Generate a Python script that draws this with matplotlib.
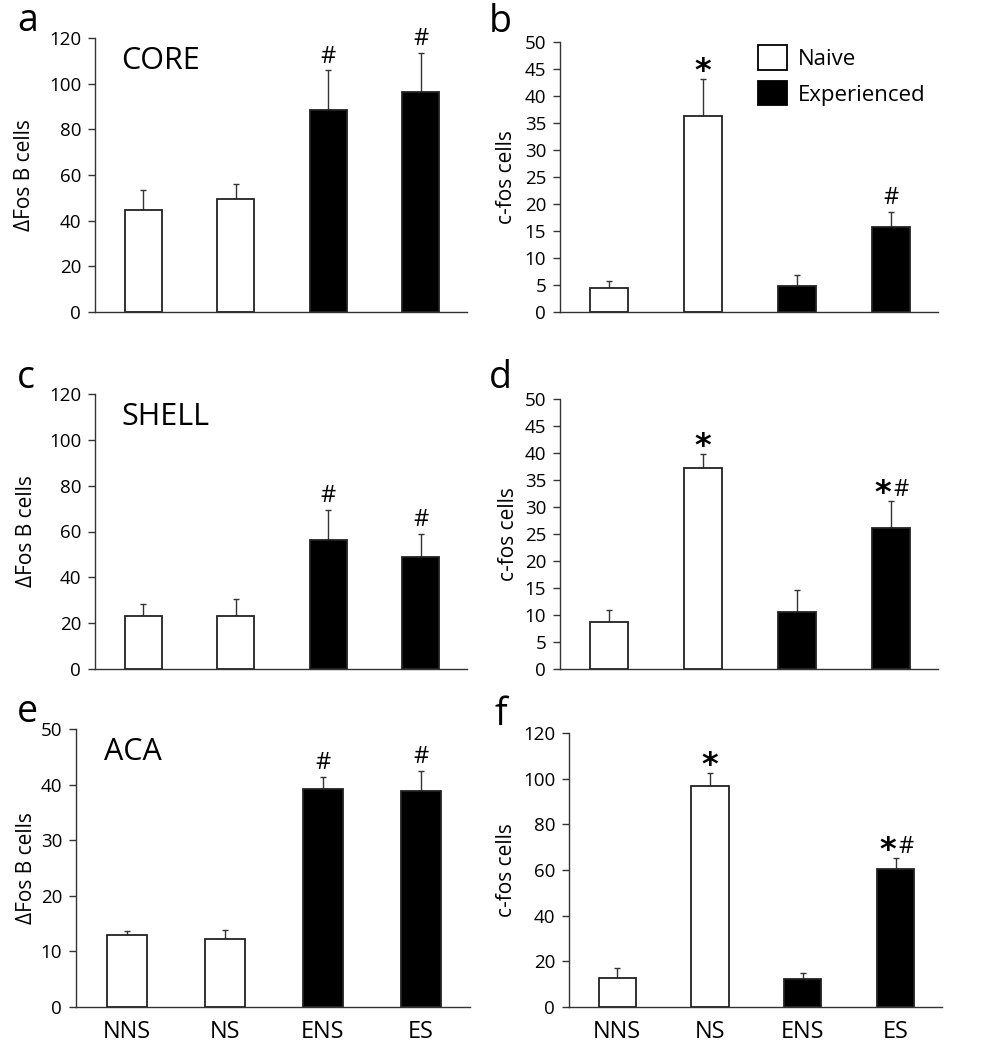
import matplotlib
matplotlib.use("Agg")
import matplotlib.pyplot as plt
from matplotlib.patches import Patch

plt.rcParams['font.family'] = ['Open Sans', 'DejaVu Sans']

groups = ["NNS", "NS", "ENS", "ES"]
bar_colors = ["white", "white", "black", "black"]

# panel a: CORE, deltaFosB
a_vals = [44.5, 49.5, 88.5, 96.5]
a_err = [9.0, 6.5, 17.5, 17.0]
a_marks = ["", "", "#", "#"]
# panel b: CORE, c-fos
b_vals = [4.5, 36.3, 4.8, 15.8]
b_err = [1.3, 6.9, 2.0, 2.8]
b_marks = ["", "*", "", "#"]
# panel c: SHELL, deltaFosB
c_vals = [23.2, 23.3, 56.2, 48.7]
c_err = [5.3, 7.2, 13.3, 10.3]
c_marks = ["", "", "#", "#"]
# panel d: SHELL, c-fos
d_vals = [8.7, 37.2, 10.6, 26.2]
d_err = [2.2, 2.6, 4.1, 4.9]
d_marks = ["", "*", "", "*#"]
# panel e: ACA, deltaFosB
e_vals = [13.0, 12.2, 39.2, 38.8]
e_err = [0.7, 1.7, 2.2, 3.7]
e_marks = ["", "", "#", "#"]
# panel f: ACA, c-fos
f_vals = [12.6, 96.7, 12.2, 60.4]
f_err = [4.3, 5.9, 2.8, 4.8]
f_marks = ["", "*", "", "*#"]

W, H = 981, 1050
fig = plt.figure(figsize=(W / 100, H / 100), dpi=100)


def rect(l, r, b, t):
    return [l / W, 1 - b / H, (r - l) / W, (b - t) / H]


# letter, axes box, values, errors, marks, ymax, ystep, ylabel, region, xlabels,
# letter position (px), ylabel centre x (px)
panels = [
    ("a", rect(95, 467, 312, 38), a_vals, a_err, a_marks, 120, 20, "\u0394Fos B cells", "CORE", False, (17, 31), 25),
    ("b", rect(560, 938, 312, 42), b_vals, b_err, b_marks, 50, 5, "c-fos cells", None, False, (489, 32), 507),
    ("c", rect(95, 467, 669, 394), c_vals, c_err, c_marks, 120, 20, "\u0394Fos B cells", "SHELL", False, (17, 388), 27),
    ("d", rect(560, 938, 669, 399), d_vals, d_err, d_marks, 50, 5, "c-fos cells", None, False, (489, 388), 508),
    ("e", rect(76, 470, 1007, 729), e_vals, e_err, e_marks, 50, 10, "\u0394Fos B cells", "ACA", True, (17, 722), 27),
    ("f", rect(569, 942, 1007, 733), f_vals, f_err, f_marks, 120, 20, "c-fos cells", None, True, (494, 725), 507),
]

axis_col = "#333333"
for letter, pos, vals, errs, marks, ymax, ystep, ylabel, region, xlabels, lpos, ylx in panels:
    ax = fig.add_axes(pos)
    x = list(range(len(groups)))
    ax.bar(x, vals, width=0.4, color=bar_colors, edgecolor="#222222", linewidth=1.3, zorder=2)
    ax.errorbar(x, vals, yerr=[[0] * 4, errs], fmt="none", ecolor="#333333",
                elinewidth=1.0, capsize=2.5, capthick=1.0, zorder=1)
    ax.set_xlim(-0.52, 3.5)
    ax.set_ylim(0, ymax)
    ax.set_yticks(range(0, ymax + 1, ystep))
    for s in ["top", "right"]:
        ax.spines[s].set_visible(False)
    for s in ["left", "bottom"]:
        ax.spines[s].set_color(axis_col)
        ax.spines[s].set_linewidth(1.0)
    ax.tick_params(axis="y", direction="out", length=5, width=1.0, color=axis_col,
                   labelsize=13.5, pad=5)
    if xlabels:
        ax.set_xticks(x)
        ax.set_xticklabels(groups, fontsize=17)
        ax.tick_params(axis="x", length=0, pad=9)
    else:
        ax.set_xticks([])
    # y label, centred on the axis height
    fig.text(ylx / W, pos[1] + pos[3] / 2, ylabel, rotation=90, fontsize=15,
             ha="center", va="center")
    for xi, v, e, m in zip(x, vals, errs, marks):
        if not m:
            continue
        top = v + e
        if m == "#":
            ax.annotate("#", xy=(xi, top), xytext=(0, 1), textcoords="offset points",
                        ha="center", va="bottom", fontsize=17)
        elif m == "*":
            ax.annotate("*", xy=(xi, top), xytext=(0, -6), textcoords="offset points",
                        ha="center", va="bottom", fontsize=23, fontweight="bold",
                        family=["DejaVu Sans"])
        elif m == "*#":
            ax.annotate("*", xy=(xi, top), xytext=(-6, -6), textcoords="offset points",
                        ha="center", va="bottom", fontsize=23, fontweight="bold",
                        family=["DejaVu Sans"])
            ax.annotate("#", xy=(xi, top), xytext=(7.5, -0.5), textcoords="offset points",
                        ha="center", va="bottom", fontsize=17)
    if region:
        ax.text(0.07, 0.97, region, transform=ax.transAxes, fontsize=22,
                ha="left", va="top")
    fig.text(lpos[0] / W, 1 - lpos[1] / H, letter, fontsize=27, ha="left",
             va="baseline")
    if letter == "b":
        handles = [Patch(facecolor="white", edgecolor="black", linewidth=1.3, label="Naive"),
                   Patch(facecolor="black", edgecolor="black", linewidth=1.3, label="Experienced")]
        ax.legend(handles=handles, loc="upper left", bbox_to_anchor=(0.5, 1.02),
                  frameon=False, fontsize=16, handlelength=1.3, handleheight=1.3,
                  handletextpad=0.5, labelspacing=0.5, borderaxespad=0)

fig.savefig("out.png", dpi=100, facecolor="white")
